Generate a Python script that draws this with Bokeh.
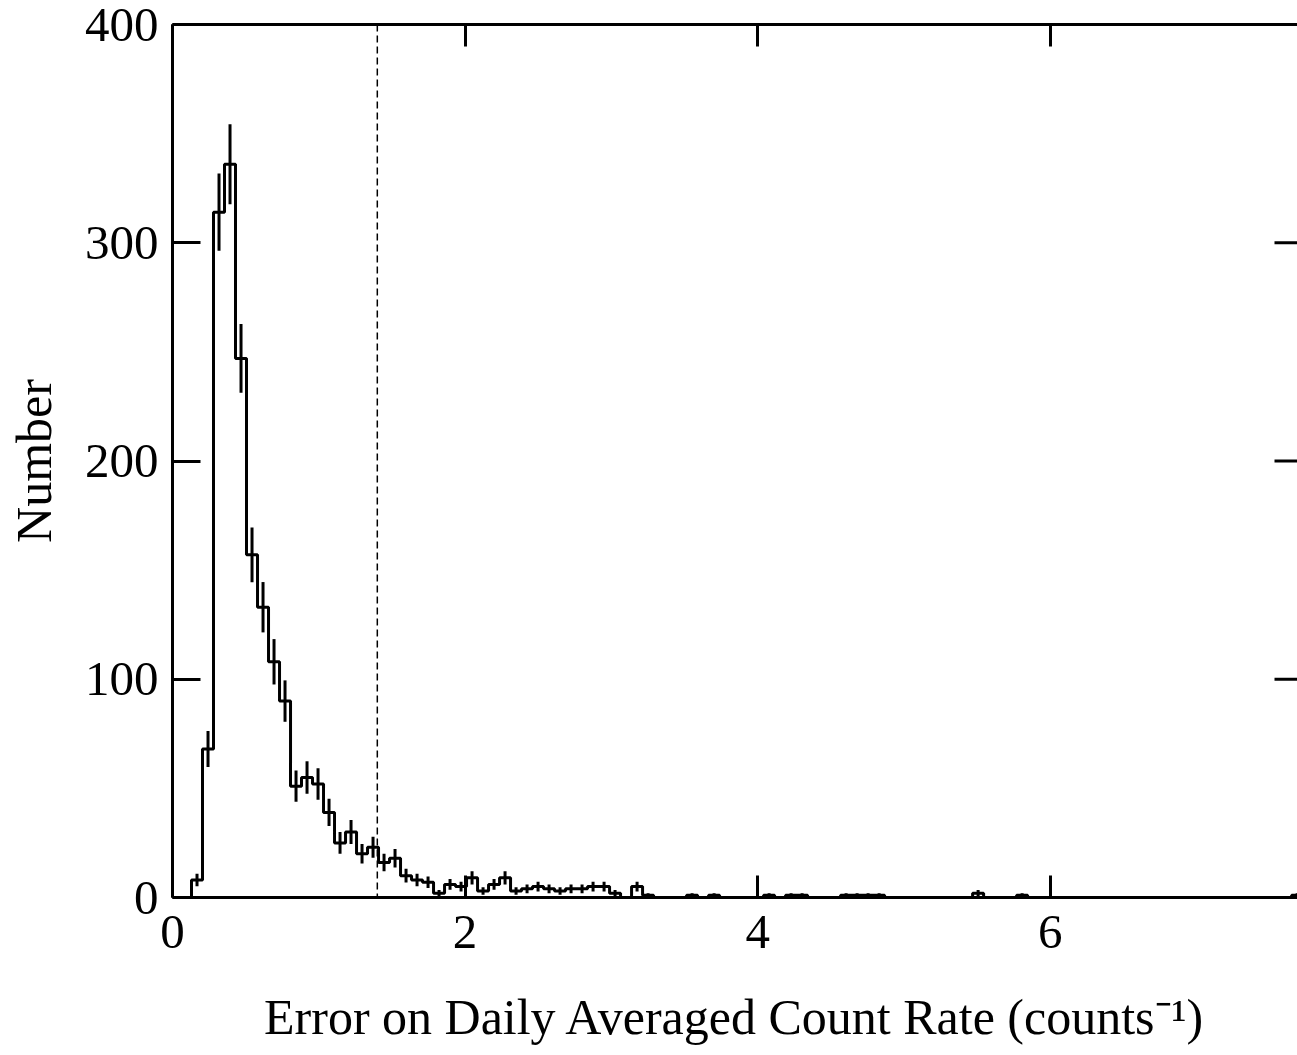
import numpy as np
from bokeh.plotting import figure
from bokeh.models import LinearAxis, FixedTicker, Span, Range1d
from bokeh.embed import file_html
from bokeh.resources import INLINE

# ---- data -------------------------------------------------------------
bin_start = 0.13
bin_width = 0.0752
counts = [
    8, 68, 314, 336, 247, 157, 133, 108, 90, 51,
    55, 52, 39, 25, 30, 20, 23, 16, 18, 10,
    8, 7, 2, 6, 5, 9, 3, 6, 9, 3,
    4, 5, 4, 3, 4, 4, 5, 5, 2, 0,
    5, 1, 0, 0, 0, 1, 0, 1, 0, 0,
    0, 0, 1, 0, 1, 1, 0, 0, 0, 1,
    1, 1, 1, 0, 0, 0, 0, 0, 0, 0,
    0, 2, 0, 0, 0, 1, 0, 0, 0, 0,
    0, 0, 0, 0, 0, 0, 0, 0, 0, 0,
    0, 0, 0, 0, 0, 0, 0, 0, 0, 0,
    1,
]
x_ticks = [0, 2, 4, 6]
y_ticks = [0, 100, 200, 300, 400]
threshold = 1.4
x_max = 7.69
y_max = 400
x_title = "Error on Daily Averaged Count Rate (counts\u207b\u00b9)"
y_title = "Number"

FONT = "Liberation Serif"

counts = np.array(counts, dtype=float)
edges = bin_start + bin_width * np.arange(len(counts) + 1)
centers = 0.5 * (edges[:-1] + edges[1:])
err = np.sqrt(counts)

p = figure(width=1297, height=1055,
           x_range=Range1d(0, x_max), y_range=Range1d(0, y_max),
           output_backend="svg", toolbar_location=None,
           min_border_left=172, min_border_right=0,
           min_border_top=24, min_border_bottom=158)
p.outline_line_color = None
p.grid.visible = False
p.background_fill_color = "white"
p.border_fill_color = "white"

def style_axis(ax, ticks, tick_in, label_size="49px", standoff=14):
    ax.ticker = FixedTicker(ticks=ticks)
    ax.major_tick_in = tick_in
    ax.major_tick_out = 0
    ax.minor_tick_in = 0
    ax.minor_tick_out = 0
    ax.axis_line_width = 3
    ax.axis_line_color = "black"
    ax.major_tick_line_width = 3
    ax.major_tick_line_color = "black"
    ax.major_label_text_font = FONT
    ax.major_label_text_font_size = label_size
    ax.major_label_text_color = "black"
    ax.major_label_standoff = standoff

xa = p.xaxis[0]
style_axis(xa, x_ticks, 22, standoff=18)
xa.axis_label = x_title
xa.axis_label_text_font = FONT
xa.axis_label_text_font_size = "50px"
xa.axis_label_text_font_style = "normal"
xa.axis_label_text_color = "black"
xa.axis_label_standoff = 38

ya = p.yaxis[0]
style_axis(ya, y_ticks, 28, standoff=14)
ya.axis_label = y_title
ya.axis_label_text_font = FONT
ya.axis_label_text_font_size = "50px"
ya.axis_label_text_font_style = "normal"
ya.axis_label_text_color = "black"
ya.axis_label_standoff = 20

top = LinearAxis()
style_axis(top, x_ticks, 22, label_size="0px", standoff=0)
top.major_label_text_alpha = 0
p.add_layout(top, "above")

# right-side inward ticks
rt = [t for t in y_ticks if 0 < t < y_max]
p.ray(x=[x_max] * len(rt), y=rt, length=23, length_units="screen",
      angle=np.pi, line_width=3, line_color="black")

# threshold line
p.add_layout(Span(location=threshold, dimension="height", line_dash="7 4",
                  line_width=1.5, line_color="black"))

# histogram
xs = np.concatenate([[0.0], edges])
ys = np.concatenate([[0.0], counts, [counts[-1]]])
p.step(x=xs, y=ys, mode="after", line_width=3, line_color="black")

m = counts > 0
p.segment(x0=centers[m], y0=(counts - err)[m], x1=centers[m], y1=(counts + err)[m],
          line_width=3, line_color="black")

open("out.html", "w").write(file_html(p, INLINE))
